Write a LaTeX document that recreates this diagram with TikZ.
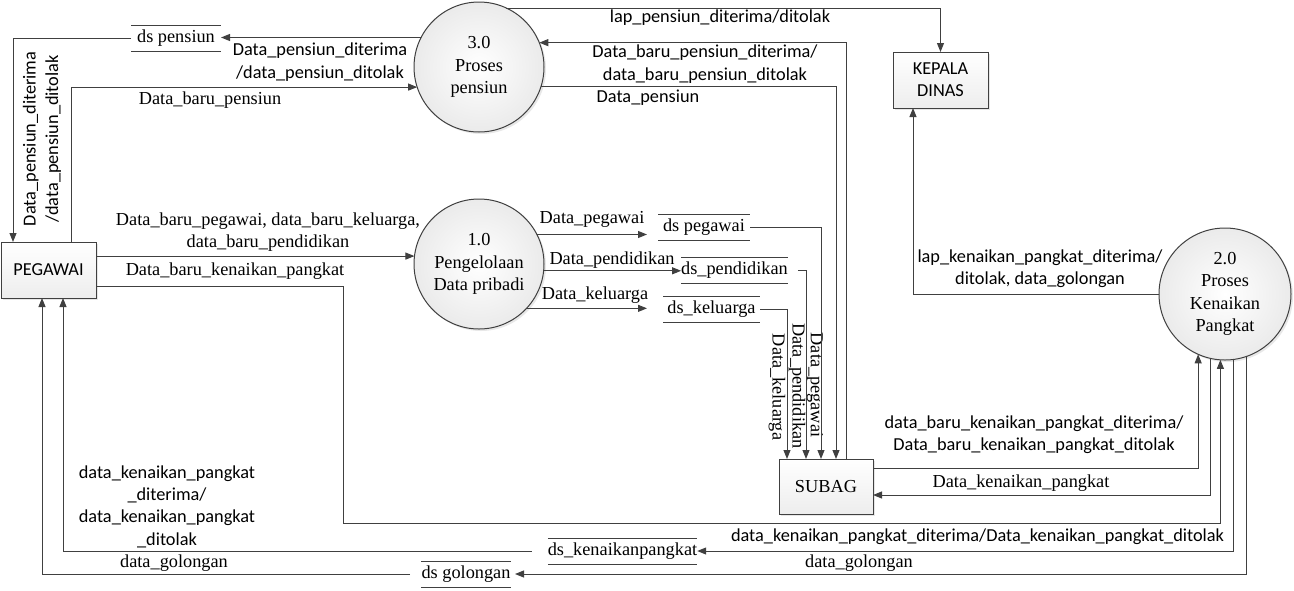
\documentclass[tikz,border=0pt]{standalone}
\usepackage{fontspec}
\setmainfont{Liberation Serif}
\newfontfamily\serf{Liberation Serif}
\newfontfamily\sansf{Carlito}
\usetikzlibrary{arrows.meta,shadows}
\definecolor{linec}{HTML}{404040}
\begin{document}
\begin{tikzpicture}[x=1pt,y=-1pt,
  every node/.style={inner sep=0pt, outer sep=0pt},
  ln/.style={draw=linec, line width=1pt},
  arr/.style={ln, -{Triangle[length=9pt,width=7pt]}},
  ser/.style={font=\serf\fontsize{18.3}{22.3}\selectfont},
  san/.style={font=\sansf\fontsize{18.3}{22.3}\selectfont},
  ent/.style={draw=linec, line width=1pt, top color=white, bottom color=gray!14,
    drop shadow={shadow xshift=2pt, shadow yshift=-2pt, opacity=0.2}},
  proc/.style={circle, draw=linec, line width=1pt, inner color=white, outer color=gray!16,
    align=center, ser, drop shadow={shadow xshift=2pt, shadow yshift=-2pt, opacity=0.18}},
  store/.style={ser, minimum height=26pt},
  lbl/.style={align=center}]
\useasboundingbox (0,0) rectangle (1294,590);

% entities
\node[ent, san, minimum width=95pt, minimum height=56pt] (peg) at (48.5,270) {PEGAWAI};
\node[ent, san, minimum width=95pt, minimum height=56pt, align=center] (kep) at (940.5,80) {KEPALA\\DINAS};
\node[ent, ser, minimum width=94pt, minimum height=55pt] (sub) at (826,486.5) {SUBAG};

% processes
\node[proc, minimum size=130pt] (c3) at (479,67) {3.0\\Proses\\pensiun};
\node[proc, minimum size=130pt] (c1) at (479,264) {1.0\\Pengelolaan\\Data pribadi};
\node[proc, minimum size=132pt] (c2) at (1225,294) {2.0\\Proses\\Kenaikan\\Pangkat};

% data stores
\node[store, minimum width=90pt] (dspen) at (176,38.5) {ds pensiun};
\node[store, minimum width=92pt] (dspeg) at (704,227.5) {ds pegawai};
\node[store, minimum width=105pt] (dspend) at (734.5,270.5) {ds\_pendidikan};
\node[store, minimum width=97pt] (dskel) at (711.5,309.5) {ds\_keluarga};
\node[store, minimum width=149pt] (dskp) at (622.5,551) {ds\_kenaikanpangkat};
\node[store, minimum width=90pt] (dsgol) at (466,574) {ds golongan};
\foreach \s in {dspen,dspeg,dspend,dskel,dskp,dsgol}{
  \draw[ln] (\s.north west) -- (\s.north east) (\s.south west) -- (\s.south east);
}

% labels
\node[san, lbl] (l1) at (320,62) {Data\_pensiun\_diterima\\/data\_pensiun\_ditolak};
\node[san, lbl, rotate=90] (l2) at (42,139) {Data\_pensiun\_diterima\\/data\_pensiun\_ditolak};
\node[ser] (l3) at (210,100) {Data\_baru\_pensiun};
\node[san] (l4) at (720,18) {lap\_pensiun\_diterima/ditolak};
\node[san, lbl] (l5) at (705,64) {Data\_baru\_pensiun\_diterima/\\data\_baru\_pensiun\_ditolak};
\node[san] (l6) at (648,98) {Data\_pensiun};
\node[ser, lbl] (l7) at (268,232) {Data\_baru\_pegawai, data\_baru\_keluarga,\\data\_baru\_pendidikan};
\node[ser] (l8) at (235,271) {Data\_baru\_kenaikan\_pangkat};
\node[ser] (l9) at (592,219) {Data\_pegawai};
\node[ser] (l10) at (612,260) {Data\_pendidikan};
\node[ser] (l11) at (595,295) {Data\_keluarga};
\node[ser, rotate=-90] (l12) at (777,387) {Data\_keluarga};
\node[ser, rotate=-90] (l13) at (797,386) {Data\_pendidikan};
\node[ser, rotate=-90] (l14) at (815,385) {Data\_pegawai};
\node[san, lbl] (l15) at (1040,268.5) {lap\_kenaikan\_pangkat\_diterima/\\ditolak, data\_golongan};
\node[san, lbl] (l16) at (1034,434.5) {data\_baru\_kenaikan\_pangkat\_diterima/\\Data\_baru\_kenaikan\_pangkat\_ditolak};
\node[ser] (l17) at (1021,483) {Data\_kenaikan\_pangkat};
\node[san] (l18) at (977.5,537) {data\_kenaikan\_pangkat\_diterima/Data\_kenaikan\_pangkat\_ditolak};
\node[ser] (l19) at (859,563) {data\_golongan};
\node[san, lbl] (l20) at (167,506.5) {data\_kenaikan\_pangkat\\\_diterima/\\data\_kenaikan\_pangkat\\\_ditolak};
\node[ser] (l21) at (174,563) {data\_golongan};

% helper coordinates
\coordinate (b1) at (343,523);
\coordinate (dspegA) at ([xshift=-11pt]dspeg.west);
\coordinate (dskelA) at ([xshift=-16pt]dskel.west);

% connectors
\draw[arr] (dspen.west) -| ([xshift=12pt]peg.north west);
\draw[arr] ([xshift=70pt]peg.north west) |- (c3.198.8);
\draw[arr] (c3.153.5) -- (c3.153.5 -| dspen.east);
\draw[arr] (c3.65) -| (kep.north);
\draw[arr] ([xshift=-27pt]sub.north east) |- (c3.22.6);
\draw[arr] (c3.-17.9) -| ([xshift=-37pt]sub.north east);
\draw[arr] (c1.173.8 -| peg.east) -- (c1.173.8);
\draw[arr] ([yshift=-16pt]peg.east) -| (b1) -| (c2.266.5);
\draw[arr] (c1.27.5) -- (c1.27.5 -| dspegA);
\draw[arr] (c1.-6.2) -- (c1.-6.2 -| dspend.west);
\draw[arr] (c1.-43.8) -- (c1.-43.8 -| dskelA);
\draw[arr] (dspeg.east) -| ([xshift=-52pt]sub.north east);
\draw[arr] ([xshift=10pt]dspend.east) -| ([xshift=-67pt]sub.north east);
\draw[arr] (dskel.east) -| ([xshift=-86pt]sub.north east);
\draw[arr] (c2.west) -| ([xshift=-27.5pt]kep.south);
\draw[arr] ([yshift=18.5pt]sub.east) -| (c2.246.8);
\draw[arr] (c2.257.8) |- ([yshift=-8.5pt]sub.east);
\draw[arr] (c2.277) |- (dskp.east);
\draw[arr] (c2.289.5) |- ([xshift=4pt]dsgol.east);
\draw[arr] ([xshift=-16pt]dskp.west) -| ([xshift=62pt]peg.south west);
\draw[arr] ([xshift=-11pt]dsgol.west) -| ([xshift=41pt]peg.south west);
\end{tikzpicture}
\end{document}
